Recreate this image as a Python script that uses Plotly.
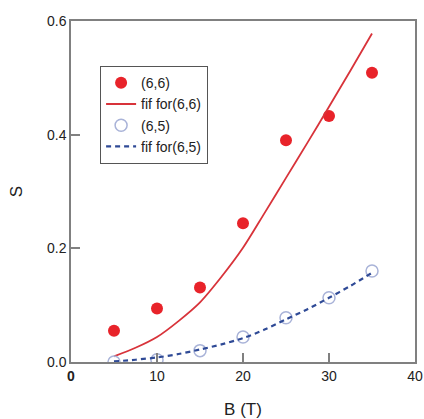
import plotly.graph_objects as go

B = [5, 10, 15, 20, 25, 30, 35]
S66 = [0.055, 0.094, 0.131, 0.244, 0.390, 0.433, 0.509]
S65 = [0.000, 0.004, 0.020, 0.044, 0.078, 0.113, 0.160]

B_fit = [5, 7.5, 10, 12.5, 15, 17.5, 20, 22.5, 25, 27.5, 30, 32.5, 35]
fit66 = [0.010, 0.025, 0.044, 0.072, 0.105, 0.150, 0.201, 0.262, 0.324, 0.386, 0.449, 0.513, 0.578]
fit65 = [0.001, 0.004, 0.008, 0.014, 0.022, 0.031, 0.042, 0.057, 0.075, 0.093, 0.113, 0.134, 0.157]

x_ticks = [0, 10, 20, 30, 40]
x_ticktext = ["<b>0</b>", "10", "20", "30", "40"]
y_ticks = [0.0, 0.2, 0.4, 0.6]
y_ticktext = ["0.0", "0.2", "0.4", "0.6"]

fig = go.Figure()
fig.add_trace(go.Scatter(x=B, y=S66, mode="markers", name="(6,6)",
                         marker=dict(color="#e8232a", size=12, line=dict(width=0))))
fig.add_trace(go.Scatter(x=B_fit, y=fit66, mode="lines", name="fif for(6,6)",
                         line=dict(color="#d8333a", width=1.8, shape="spline", smoothing=0.8)))
fig.add_trace(go.Scatter(x=B, y=S65, mode="markers", name="(6,5)",
                         marker=dict(color="#a9b3d8", size=12, symbol="circle-open",
                                     line=dict(color="#a9b3d8", width=1.5))))
fig.add_trace(go.Scatter(x=B_fit, y=fit65, mode="lines", name="fif for(6,5)",
                         line=dict(color="#2f4a96", width=2.2, dash="5px,4px",
                                   shape="spline", smoothing=0.8)))

axis_common = dict(showline=True, linecolor="#808080", linewidth=1.5, mirror=True,
                   ticks="inside", ticklen=9, tickcolor="#808080", tickwidth=1.5,
                   showgrid=False, zeroline=False, automargin=False,
                   tickfont=dict(family="Liberation Sans, Arial", size=14, color="#222"))

fig.update_layout(
    width=424, height=419,
    margin=dict(l=71, r=9, t=21, b=57),
    paper_bgcolor="white", plot_bgcolor="white",
    font=dict(family="Liberation Sans, Arial", size=14, color="#222"),
    xaxis=dict(range=[0, 40], tickvals=x_ticks, ticktext=x_ticktext,
               title=dict(text="B (T)", font=dict(size=17), standoff=22), **axis_common),
    yaxis=dict(range=[0, 0.6], tickvals=y_ticks, ticktext=y_ticktext,
               title=dict(text="S", font=dict(size=17), standoff=20), **axis_common),
    legend=dict(x=0.084, y=0.868, xanchor="left", yanchor="top",
                bordercolor="#555", borderwidth=1.2, bgcolor="white",
                font=dict(size=14, color="#222"), itemwidth=30,
                tracegroupgap=0),
    showlegend=True,
)

fig.write_html("out.html")
